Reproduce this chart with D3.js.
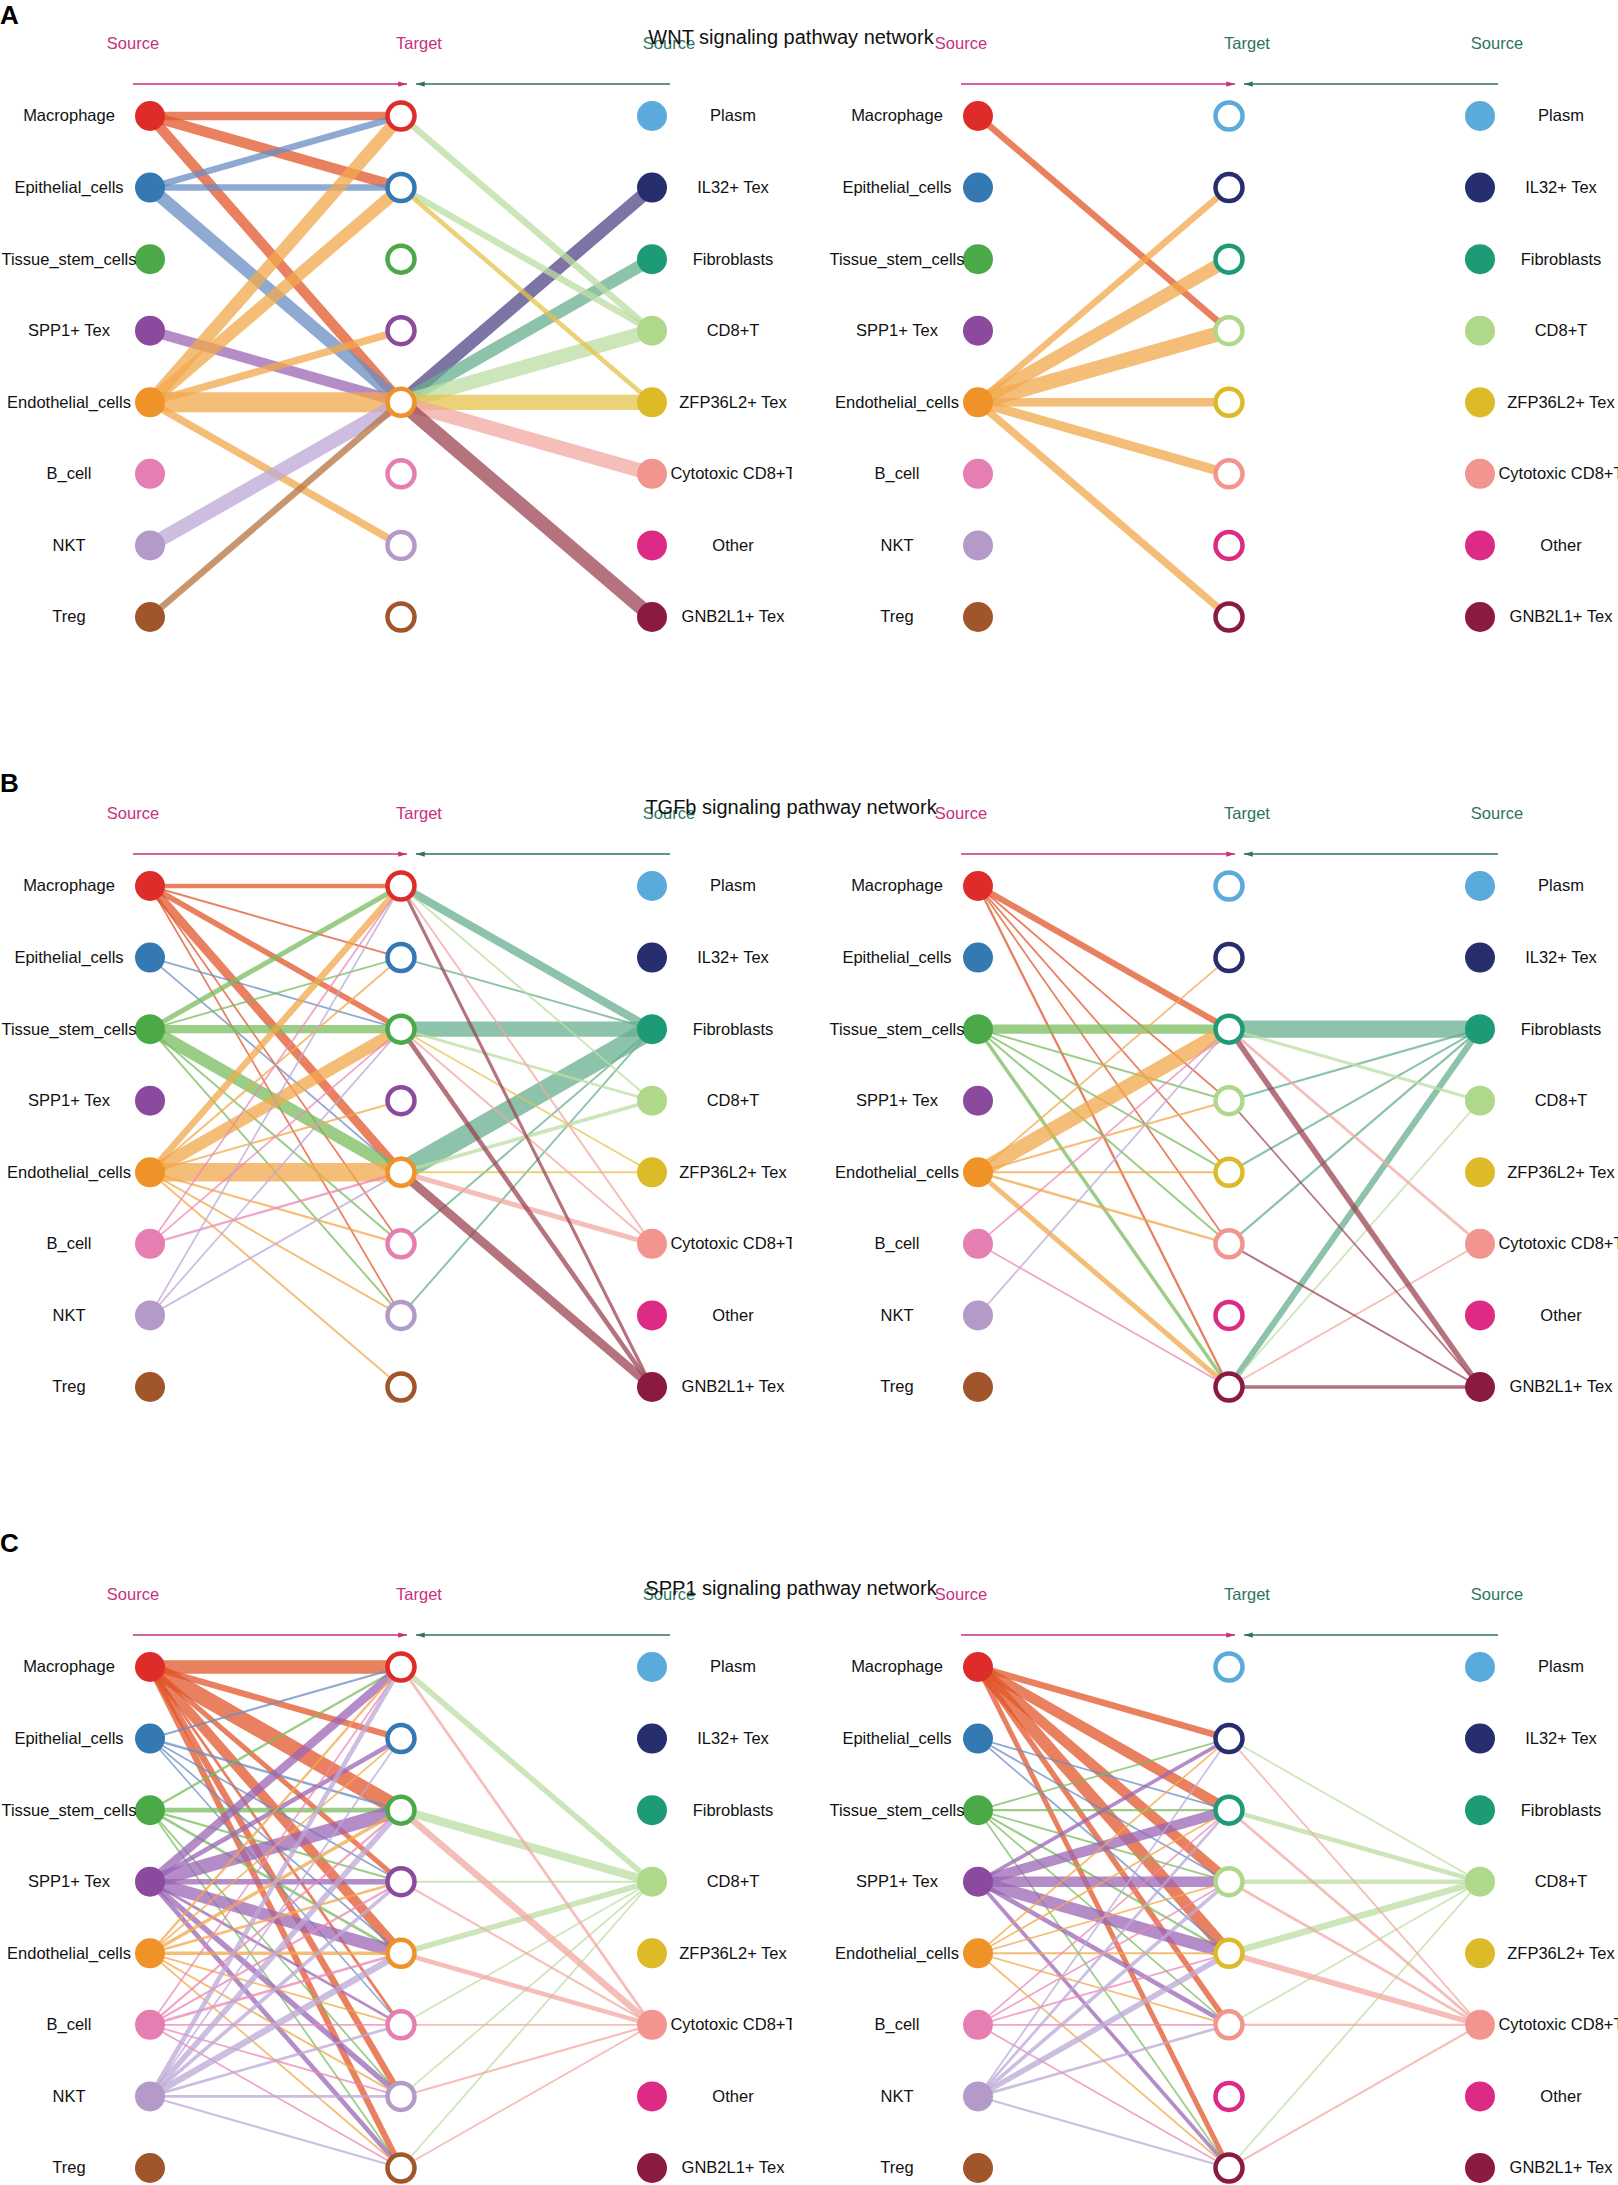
<!DOCTYPE html>
<html>
<head>
<meta charset="utf-8">
<title>Signaling pathway networks</title>
<script src="https://d3js.org/d3.v7.min.js"></script>
<style>
  body { margin: 0; background: #fff; }
  text { font-family: "Liberation Sans", Arial, Helvetica, sans-serif; }
  .node-label { font-size: 16.5px; fill: #111; }
  .head { font-size: 16.5px; }
  .title { font-size: 20px; fill: #111; }
  .letter { font-size: 26px; font-weight: bold; fill: #000; }
</style>
</head>
<body>
<script>
const width = 1618, height = 2185;

// cell groups: left group are the "Source" column, right group the other "Source" column
const leftGroup = ["Macrophage", "Epithelial_cells", "Tissue_stem_cells", "SPP1+ Tex",
                   "Endothelial_cells", "B_cell", "NKT", "Treg"];
const rightGroup = ["Plasm", "IL32+ Tex", "Fibroblasts", "CD8+T",
                    "ZFP36L2+ Tex", "Cytotoxic CD8+T", "Other", "GNB2L1+ Tex"];
const pathways = ["WNT", "TGFb", "SPP1"];
const panelLetters = ["A", "B", "C"];

const nodeColors = ["#DD2C2A", "#3579B3", "#4BA948", "#8C4A9E", "#EF9227", "#E57EB1", "#B39AC9", "#A0552B",
                    "#5AAADB", "#262E6E", "#1D9A76", "#B0D88A", "#DDBA27", "#F2958F", "#DD2A85", "#8A1A42"];
const edgeColors = ["#E2562A", "#6A8EC3", "#7ABC5F", "#9B66B6", "#F2A84B", "#EB87B6", "#BCA8D7", "#B6733E",
                    "#80BCE4", "#524487", "#66AF8E", "#BCDEA2", "#E4C34B", "#F2A8A2", "#E458A2", "#9B4452"];

// communication strength, rows = senders (leftGroup then rightGroup), cols = receivers (8 middle nodes)
// 0 = no link
const wntToLeft = [
  [0.40, 0.50, 0, 0, 0.50, 0, 0, 0],
  [0.30, 0.30, 0, 0, 0.62, 0, 0, 0],
  [0, 0, 0, 0, 0, 0, 0, 0],
  [0, 0, 0, 0, 0.50, 0, 0, 0],
  [0.62, 0.60, 0, 0.35, 1.00, 0, 0.35, 0],
  [0, 0, 0, 0, 0, 0, 0, 0],
  [0, 0, 0, 0, 0.70, 0, 0, 0],
  [0, 0, 0, 0, 0.30, 0, 0, 0],
  [0, 0, 0, 0, 0, 0, 0, 0],
  [0, 0, 0, 0, 0.65, 0, 0, 0],
  [0, 0, 0, 0, 0.60, 0, 0, 0],
  [0.30, 0.30, 0, 0, 0.70, 0, 0, 0],
  [0, 0.20, 0, 0, 0.75, 0, 0, 0],
  [0, 0, 0, 0, 0.70, 0, 0, 0],
  [0, 0, 0, 0, 0, 0, 0, 0],
  [0, 0, 0, 0, 0.70, 0, 0, 0]
];
const wntToRight = [
  [0, 0, 0, 0.30, 0, 0, 0, 0],
  [0, 0, 0, 0, 0, 0, 0, 0],
  [0, 0, 0, 0, 0, 0, 0, 0],
  [0, 0, 0, 0, 0, 0, 0, 0],
  [0, 0.30, 0.65, 0.75, 0.40, 0.45, 0, 0.35],
  [0, 0, 0, 0, 0, 0, 0, 0],
  [0, 0, 0, 0, 0, 0, 0, 0],
  [0, 0, 0, 0, 0, 0, 0, 0],
  [0, 0, 0, 0, 0, 0, 0, 0],
  [0, 0, 0, 0, 0, 0, 0, 0],
  [0, 0, 0, 0, 0, 0, 0, 0],
  [0, 0, 0, 0, 0, 0, 0, 0],
  [0, 0, 0, 0, 0, 0, 0, 0],
  [0, 0, 0, 0, 0, 0, 0, 0],
  [0, 0, 0, 0, 0, 0, 0, 0],
  [0, 0, 0, 0, 0, 0, 0, 0]
];
const tgfbToLeft = [
  [0.20, 0.06, 0.25, 0, 0.42, 0.05, 0.05, 0],
  [0, 0, 0.05, 0, 0.05, 0, 0, 0],
  [0.22, 0.06, 0.38, 0, 0.60, 0.06, 0.06, 0],
  [0, 0, 0, 0, 0, 0, 0, 0],
  [0.30, 0.06, 0.60, 0.06, 0.92, 0.07, 0.06, 0.06],
  [0.05, 0, 0.05, 0, 0.08, 0, 0, 0],
  [0.05, 0, 0.05, 0, 0.06, 0, 0, 0],
  [0, 0, 0, 0, 0, 0, 0, 0],
  [0, 0, 0, 0, 0, 0, 0, 0],
  [0, 0, 0, 0, 0, 0, 0, 0],
  [0.38, 0.06, 0.75, 0, 1.00, 0.06, 0.06, 0],
  [0.06, 0, 0.10, 0, 0.15, 0, 0, 0],
  [0, 0, 0.05, 0, 0.06, 0, 0, 0],
  [0.06, 0, 0.06, 0, 0.22, 0, 0, 0],
  [0, 0, 0, 0, 0, 0, 0, 0],
  [0.12, 0, 0.20, 0, 0.42, 0, 0, 0]
];
const tgfbToRight = [
  [0, 0, 0.28, 0.05, 0.05, 0.05, 0, 0.08],
  [0, 0, 0, 0, 0, 0, 0, 0],
  [0, 0, 0.45, 0.06, 0.06, 0.06, 0, 0.14],
  [0, 0, 0, 0, 0, 0, 0, 0],
  [0, 0.05, 0.75, 0.07, 0.07, 0.09, 0, 0.22],
  [0, 0, 0.05, 0, 0, 0, 0, 0.05],
  [0, 0, 0.05, 0, 0, 0, 0, 0],
  [0, 0, 0, 0, 0, 0, 0, 0],
  [0, 0, 0, 0, 0, 0, 0, 0],
  [0, 0, 0, 0, 0, 0, 0, 0],
  [0, 0, 0.85, 0.07, 0.07, 0.08, 0, 0.28],
  [0, 0, 0.12, 0, 0, 0, 0, 0.05],
  [0, 0, 0, 0, 0, 0, 0, 0],
  [0, 0, 0.10, 0, 0, 0, 0, 0.05],
  [0, 0, 0, 0, 0, 0, 0, 0],
  [0, 0, 0.25, 0.05, 0, 0.06, 0, 0.14]
];
const spp1ToLeft = [
  [0.65, 0.28, 0.80, 0.22, 0.48, 0.10, 0.30, 0.28],
  [0.07, 0, 0.09, 0.05, 0.05, 0.04, 0, 0],
  [0.08, 0, 0.20, 0.07, 0.10, 0, 0.05, 0.05],
  [0.40, 0.20, 0.70, 0.25, 0.60, 0.10, 0.25, 0.20],
  [0.08, 0.05, 0.14, 0.10, 0.14, 0.05, 0.06, 0.05],
  [0.05, 0, 0.07, 0.07, 0.10, 0.05, 0.05, 0.05],
  [0.20, 0.05, 0.25, 0.15, 0.30, 0.10, 0.10, 0.07],
  [0, 0, 0, 0, 0, 0, 0, 0],
  [0, 0, 0, 0, 0, 0, 0, 0],
  [0, 0, 0, 0, 0, 0, 0, 0],
  [0, 0, 0, 0, 0, 0, 0, 0],
  [0.25, 0, 0.40, 0.07, 0.25, 0.05, 0.05, 0.05],
  [0, 0, 0, 0, 0, 0, 0, 0],
  [0.10, 0, 0.30, 0.07, 0.20, 0.05, 0.07, 0.05],
  [0, 0, 0, 0, 0, 0, 0, 0],
  [0, 0, 0, 0, 0, 0, 0, 0]
];
const spp1ToRight = [
  [0, 0.30, 0.50, 0.50, 0.60, 0.25, 0, 0.22],
  [0, 0, 0.05, 0.05, 0.05, 0, 0, 0],
  [0, 0.05, 0.08, 0.05, 0.07, 0.05, 0, 0.05],
  [0, 0.15, 0.50, 0.50, 0.60, 0.20, 0, 0.15],
  [0, 0.05, 0.05, 0.05, 0.07, 0.05, 0, 0.05],
  [0, 0, 0.05, 0.05, 0.05, 0.05, 0, 0.05],
  [0, 0.05, 0.10, 0.15, 0.25, 0.10, 0, 0.07],
  [0, 0, 0, 0, 0, 0, 0, 0],
  [0, 0, 0, 0, 0, 0, 0, 0],
  [0, 0, 0, 0, 0, 0, 0, 0],
  [0, 0, 0, 0, 0, 0, 0, 0],
  [0, 0.05, 0.20, 0.20, 0.30, 0.05, 0, 0.05],
  [0, 0, 0, 0, 0, 0, 0, 0],
  [0, 0.05, 0.10, 0.10, 0.25, 0.07, 0, 0.07],
  [0, 0, 0, 0, 0, 0, 0, 0],
  [0, 0, 0, 0, 0, 0, 0, 0]
];
const networks = [[wntToLeft, wntToRight], [tgfbToLeft, tgfbToRight], [spp1ToLeft, spp1ToRight]];

// layout
const panelX = [0, 828];
const panelY = [0, 770, 1551];
const letterY = [24, 792, 1552];
const col = { src: 150, tgt: 401, rgt: 652, lblL: 69, lblR: 733 };
const magenta = "#C8307F", teal = "#2E7362";

const y = d3.scalePoint().domain(d3.range(8)).range([116, 617]);
const strokeW = d3.scaleLinear().domain([0, 1]).range([0.8, 20]);

let svg = d3.select('body').append('svg').attr('width', width).attr('height', height);
let defs = svg.append('defs');
defs.append('clipPath').attr('id', 'panel-clip')
    .append('rect').attr('x', -5).attr('y', -20).attr('width', 797).attr('height', 720);
[['head-m', magenta], ['head-t', teal]].forEach(([id, c]) => {
  defs.append('marker').attr('id', id)
      .attr('viewBox', '0 -4 10 8').attr('refX', 10).attr('refY', 0)
      .attr('markerUnits', 'userSpaceOnUse').attr('markerWidth', 10).attr('markerHeight', 7)
      .attr('orient', 'auto')
      .append('path').attr('d', 'M0,-3L10,0L0,3Z').attr('fill', c);
});

pathways.forEach((pw, p) => {
  [0, 1].forEach(v => {
    let g = svg.append('g').attr('transform', `translate(${panelX[v]},${panelY[p]})`)
               .append('g').attr('clip-path', 'url(#panel-clip)');

    // header labels and arrows
    let heads = [
      { t: 'Source', x: 133, c: magenta },
      { t: 'Target', x: 419, c: v === 0 ? magenta : teal },
      { t: 'Source', x: 669, c: teal }
    ];
    g.selectAll('.head').data(heads).enter().append('text').classed('head', true)
     .attr('x', d => d.x).attr('y', 49).attr('text-anchor', 'middle')
     .attr('fill', d => d.c).text(d => d.t);
    g.append('line').attr('x1', 133).attr('x2', 407).attr('y1', 84).attr('y2', 84)
     .attr('stroke', magenta).attr('stroke-width', 1.6).attr('marker-end', 'url(#head-m)');
    g.append('line').attr('x1', 670).attr('x2', 416).attr('y1', 84).attr('y2', 84)
     .attr('stroke', teal).attr('stroke-width', 1.6).attr('marker-end', 'url(#head-t)');

    // links
    let m = networks[p][v];
    let links = [];
    m.forEach((row, si) => row.forEach((val, ti) => { if (val > 0) links.push({ si, ti, val }); }));
    g.append('g').selectAll('line').data(links).enter().append('line')
     .attr('x1', d => d.si < 8 ? col.src : col.rgt)
     .attr('y1', d => y(d.si % 8))
     .attr('x2', col.tgt)
     .attr('y2', d => y(d.ti))
     .attr('stroke', d => edgeColors[d.si])
     .attr('stroke-opacity', 0.75)
     .attr('stroke-width', d => strokeW(d.val));

    // nodes
    g.append('g').selectAll('circle').data(leftGroup).enter().append('circle')
     .attr('cx', col.src).attr('cy', (d, i) => y(i)).attr('r', 15)
     .attr('fill', (d, i) => nodeColors[i]);
    g.append('g').selectAll('circle').data(rightGroup).enter().append('circle')
     .attr('cx', col.rgt).attr('cy', (d, i) => y(i)).attr('r', 15)
     .attr('fill', (d, i) => nodeColors[8 + i]);
    let middle = v === 0 ? leftGroup : rightGroup;
    g.append('g').selectAll('circle').data(middle).enter().append('circle')
     .attr('cx', col.tgt).attr('cy', (d, i) => y(i)).attr('r', 13.5)
     .attr('fill', '#fff').attr('stroke-width', 4.5)
     .attr('stroke', (d, i) => nodeColors[v * 8 + i]);

    // node labels
    g.append('g').selectAll('text').data(leftGroup).enter().append('text').classed('node-label', true)
     .attr('x', col.lblL).attr('y', (d, i) => y(i)).attr('dy', '0.33em')
     .attr('text-anchor', 'middle').text(d => d);
    g.append('g').selectAll('text').data(rightGroup).enter().append('text').classed('node-label', true)
     .attr('x', col.lblR).attr('y', (d, i) => y(i)).attr('dy', '0.33em')
     .attr('text-anchor', 'middle').text(d => d);
  });

  // panel title and letter sit over both halves
  svg.append('text').classed('title', true)
     .attr('x', 791).attr('y', panelY[p] + 44).attr('text-anchor', 'middle')
     .text(pw + ' signaling pathway network');
  svg.append('text').classed('letter', true)
     .attr('x', 0).attr('y', letterY[p]).text(panelLetters[p]);
});
</script>
</body>
</html>
